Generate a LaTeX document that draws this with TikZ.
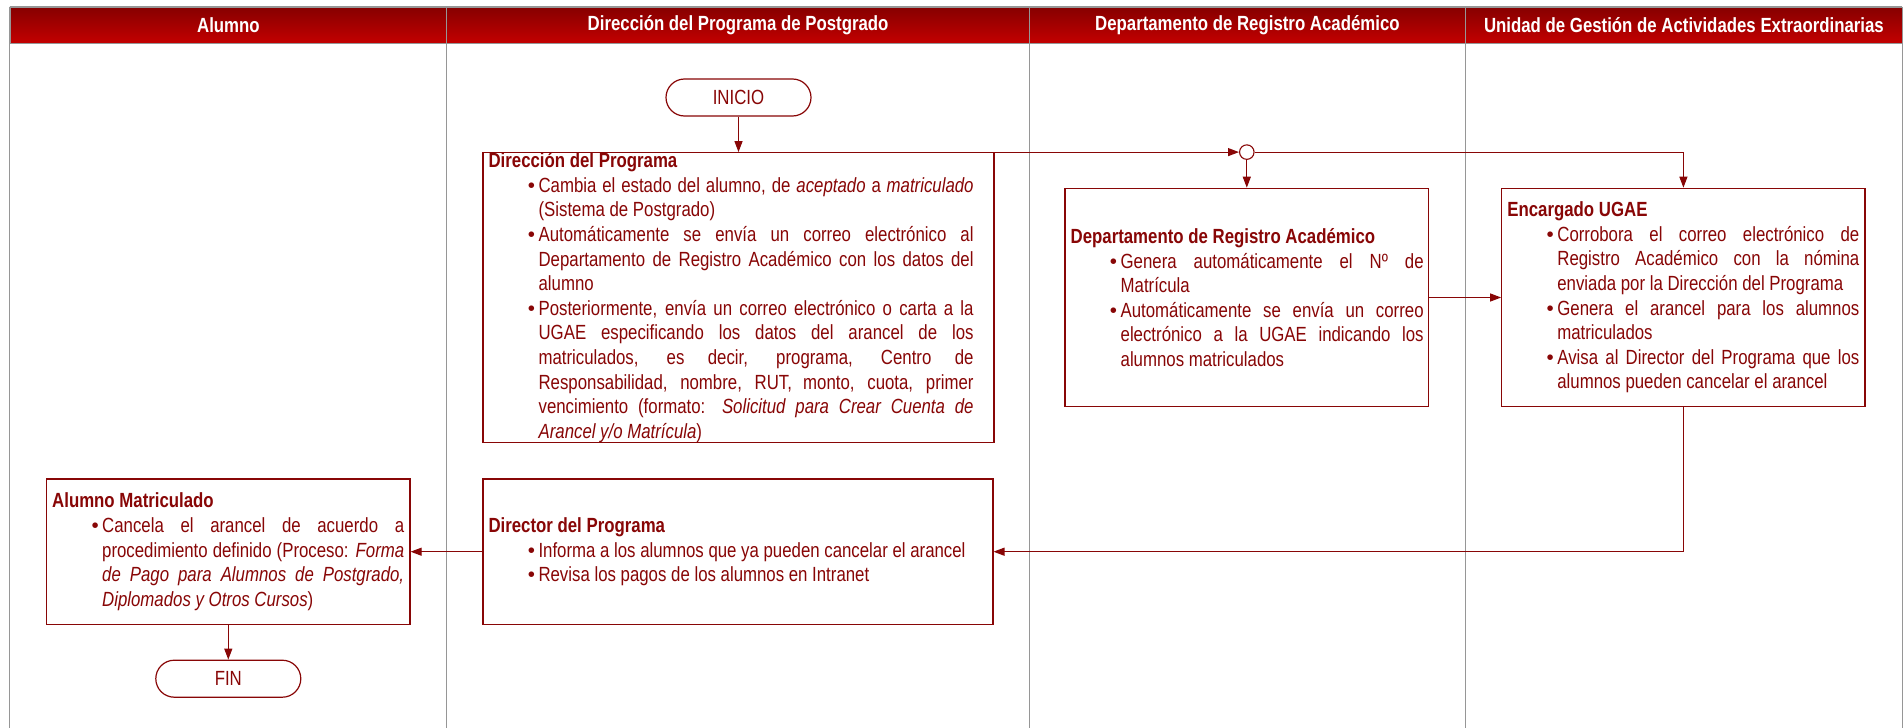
\documentclass[tikz,border=0pt]{standalone}
\usepackage{fontspec}
\setmainfont{Liberation Sans}[FakeStretch=0.82]
\newfontfamily\bulfont{Liberation Sans}
\usetikzlibrary{arrows.meta,shapes.misc}
\definecolor{dred}{RGB}{136,6,6}
\definecolor{hdtop}{RGB}{134,0,0}
\definecolor{hdbot}{RGB}{196,0,0}
\definecolor{lanegray}{RGB}{150,150,150}
\tolerance=10000
\hbadness=10000
\hyphenpenalty=10000
\exhyphenpenalty=10000
\newenvironment{blist}{\begin{list}{{\bulfont\textbullet}}{\setlength{\leftmargin}{50pt}\setlength{\labelsep}{3.5pt}\setlength{\labelwidth}{20pt}\setlength{\itemsep}{0pt}\setlength{\parsep}{0pt}\setlength{\topsep}{0pt}\setlength{\partopsep}{0pt}\setlength{\itemindent}{0pt}}}{\end{list}}
\begin{document}
\begin{tikzpicture}[x=1pt,y=-1pt,
  lane/.style={draw=lanegray,line width=1pt},
  hdr/.style={draw=lanegray,line width=0.8pt,top color=hdtop,bottom color=hdbot,text=white,
    font=\fontsize{20.5}{24.6}\selectfont\bfseries,inner sep=0pt,anchor=north west,minimum height=36.6pt},
  box/.style={draw=dred,line width=1.2pt,rectangle,inner sep=0pt,fill=white},
  txt/.style={text=dred,align=justify,inner sep=0pt,anchor=west,
    font=\fontsize{20.5}{24.6}\selectfont},
  term/.style={draw=dred,line width=1.2pt,rounded rectangle,fill=white,minimum width=145pt,minimum height=37pt,
    inner sep=0pt,text=dred,font=\fontsize{20.5}{24.6}\selectfont},
  conn/.style={draw=dred,line width=1.1pt,-{Triangle[length=11pt,width=8pt]}}
]
\useasboundingbox (0,0) rectangle (1904,728);
\fill[white] (0,0) rectangle (1904,728);

% swimlane frame
\draw[lane] (9.6,6.7) -- (1902,6.7);
\foreach \xx in {9.6,446.4,1029,1465,1902}{\draw[lane] (\xx,6.7) -- (\xx,728);}

% headers
\node[hdr,minimum width=436.8pt] (h1) at (9.6,6.7) {Alumno};
\node[hdr,minimum width=582.6pt] (h2) at (446.4,6.7) {Dirección del Programa de Postgrado};
\node[hdr,minimum width=436pt] (h3) at (1029,6.7) {Departamento de Registro Académico};
\node[hdr,minimum width=437pt] (h4) at (1465,6.7) {Unidad de Gestión de Actividades Extraordinarias};

% terminals
\node[term] (ini) at (738.5,97.5) {INICIO};
\node[term] (fin) at (228.3,678.7) {FIN};

% boxes
\node[box,minimum width=511pt,minimum height=290pt] (dp) at (738.5,297.7) {};
\node[box,minimum width=363.5pt,minimum height=218.4pt] (dra) at (1246.8,297.5) {};
\node[box,minimum width=363.3pt,minimum height=218.4pt] (ugae) at (1683.4,297.5) {};
\node[box,minimum width=510pt,minimum height=145.3pt] (dir) at (737.9,551.7) {};
\node[box,minimum width=363.4pt,minimum height=145.3pt] (alu) at (228.3,551.7) {};

% junction
\node[circle,draw=dred,line width=1.1pt,fill=white,minimum size=14.5pt,inner sep=0pt] (jn) at (dra.north |- dp.north) {};

% texts
\node[txt,text width=485pt] (dpt) at ([xshift=6pt]dp.west) {\textbf{Dirección del Programa}
\begin{blist}
\item Cambia el estado del alumno, de \textit{aceptado} a \textit{matriculado}\linebreak (Sistema de Postgrado)
\item Automáticamente se envía un correo electrónico al\linebreak Departamento de Registro Académico con los datos del\linebreak alumno
\item Posteriormente, envía un correo electrónico o carta a la\linebreak UGAE especificando los datos del arancel de los\linebreak matriculados, es decir, programa, Centro de\linebreak Responsabilidad, nombre, RUT, monto, cuota, primer\linebreak vencimiento (formato: \textit{Solicitud para Crear Cuenta de\linebreak Arancel y/o Matrícula})
\end{blist}};

\node[txt,text width=353pt] (drat) at ([xshift=6pt]dra.west) {\textbf{Departamento de Registro Académico}
\begin{blist}
\item Genera automáticamente el Nº de\linebreak Matrícula
\item Automáticamente se envía un correo\linebreak electrónico a la UGAE indicando los\linebreak alumnos matriculados
\end{blist}};

\node[txt,text width=352pt] (ugaet) at ([xshift=6pt]ugae.west) {\textbf{Encargado UGAE}
\begin{blist}
\item Corrobora el correo electrónico de\linebreak Registro Académico con la nómina\linebreak enviada por la Dirección del Programa
\item Genera el arancel para los alumnos\linebreak matriculados
\item Avisa al Director del Programa que los\linebreak alumnos pueden cancelar el arancel
\end{blist}};

\node[txt,text width=495pt] (dirt) at ([xshift=6pt]dir.west) {\textbf{Director del Programa}
\begin{blist}
\item Informa a los alumnos que ya pueden cancelar el arancel
\item Revisa los pagos de los alumnos en Intranet
\end{blist}};

\node[txt,text width=352pt] (alut) at ([xshift=6pt]alu.west) {\textbf{Alumno Matriculado}
\begin{blist}
\item Cancela el arancel de acuerdo a\linebreak procedimiento definido (Proceso: \textit{Forma\linebreak de Pago para Alumnos de Postgrado,\linebreak Diplomados y Otros Cursos})
\end{blist}};

% connectors
\draw[conn] (ini.south) -- (dp.north);
\draw[conn] (dp.north east) -- (jn.west);
\draw[conn] (jn.south) -- (dra.north);
\draw[conn] (jn.east) -| (ugae.north);
\draw[conn] (dra.east) -- (ugae.west);
\draw[conn] (ugae.south) |- (dir.east);
\draw[conn] (dir.west) -- (alu.east);
\draw[conn] (alu.south) -- (fin.north);
\end{tikzpicture}
\end{document}
